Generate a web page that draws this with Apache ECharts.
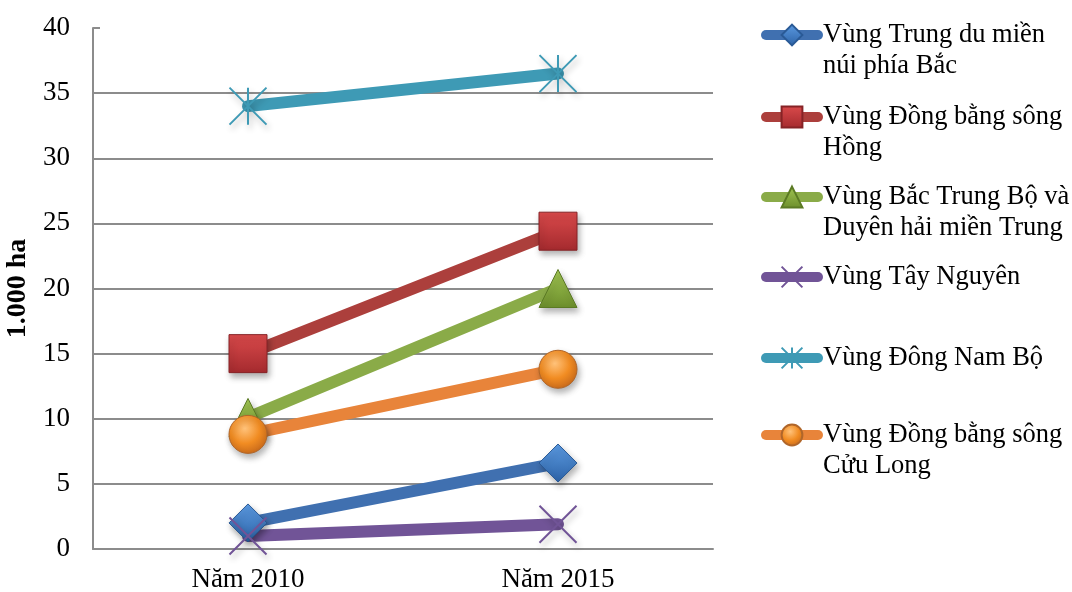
<!DOCTYPE html>
<html>
<head>
<meta charset="utf-8">
<script src="https://cdn.jsdelivr.net/npm/echarts@6/dist/echarts.min.js"></script>
<style>
  html, body { margin: 0; padding: 0; background: #fff; }
  #chart { width: 1072px; height: 592px; }
</style>
</head>
<body>
<div id="chart"></div>
<script>
// Categories and values (thousand hectares)
const years = ['Năm 2010', 'Năm 2015'];
const regionNames = [
  'Vùng Trung du miền\nnúi phía Bắc',
  'Vùng Đồng bằng sông\nHồng',
  'Vùng Bắc Trung Bộ và\nDuyên hải miền Trung',
  'Vùng Tây Nguyên',
  'Vùng Đông Nam Bộ',
  'Vùng Đồng bằng sông\nCửu Long'
];
const trungDu = [2.0, 6.6];
const dongBangHong = [15.0, 24.4];
const bacTrungBo = [10.1, 20.0];
const tayNguyen = [1.0, 1.9];
const dongNamBo = [34.0, 36.5];
const cuuLong = [8.8, 13.8];
const yAxisName = '1.000 ha';

const FONT = "'Liberation Serif', 'Times New Roman', serif";
const LH = 31;

function vgrad(top, bottom) {
  return new echarts.graphic.LinearGradient(0, 0, 0, 1, [
    { offset: 0, color: top }, { offset: 1, color: bottom }
  ]);
}
const markerShadow = {
  shadowBlur: 6, shadowOffsetX: 2, shadowOffsetY: 4, shadowColor: 'rgba(0,0,0,0.3)'
};

const styles = [
  { line: '#4070B0', symbol: 'diamond', size: 38,
    item: Object.assign({ color: vgrad('#5C9BE2', '#2C62A6'), borderColor: '#2A5A96', borderWidth: 1 }, markerShadow) },
  { line: '#AC3F3C', symbol: 'rect', size: 38,
    item: Object.assign({ color: vgrad('#DA4A4B', '#A42A2E'), borderColor: '#862326', borderWidth: 1 }, markerShadow) },
  { line: '#8AAB48', symbol: 'triangle', size: 38,
    item: Object.assign({ color: vgrad('#A2C653', '#6C8E2C'), borderColor: '#5B7A24', borderWidth: 1 }, markerShadow) },
  { line: '#715497', symbol: 'path://M0,0L10,10M10,0L0,10', size: 37,
    item: Object.assign({ color: '#715497', borderColor: '#715497', borderWidth: 2 }, markerShadow) },
  { line: '#3E9AB5', symbol: 'path://M5,0L5,10M0,0L10,10M10,0L0,10', size: 37,
    item: Object.assign({ color: '#3E9AB5', borderColor: '#3E9AB5', borderWidth: 2 }, markerShadow) },
  { line: '#E8843A', symbol: 'circle', size: 38,
    item: Object.assign({
      color: new echarts.graphic.RadialGradient(0.42, 0.35, 0.7, [
        { offset: 0, color: '#FFC27A' }, { offset: 0.55, color: '#F18C22' }, { offset: 1, color: '#C4661A' }
      ]),
      borderColor: '#B0662A', borderWidth: 1 }, markerShadow) }
];

const values = [trungDu, dongBangHong, bacTrungBo, tayNguyen, dongNamBo, cuuLong];

const series = regionNames.map((name, i) => ({
  name: name,
  type: 'line',
  data: values[i],
  symbol: styles[i].symbol,
  symbolSize: styles[i].size,
  showAllSymbol: true,
  lineStyle: { color: styles[i].line, width: 12, cap: 'round' },
  itemStyle: styles[i].item,
  emphasis: { disabled: true }
}));

// Legend rows: icon centre heights. Two-line names get an empty leading
// line so that the first text line sits level with the icon.
const legendIconY = [35, 117, 197, 277, 358, 435];
const legends = regionNames.map((name, i) => {
  const twoLines = name.indexOf('\n') >= 0;
  return {
    orient: 'vertical',
    left: 761,
    top: twoLines ? legendIconY[i] - LH * 1.5 : legendIconY[i] - LH / 2,
    padding: 0,
    itemWidth: 52,
    itemHeight: 26,
    selectedMode: false,
    lineStyle: { width: 10, cap: 'round' },
    formatter: (n) => (n.indexOf('\n') >= 0 ? '\n' + n : n),
    textStyle: { fontFamily: FONT, fontSize: 26.5, color: '#000', lineHeight: LH },
    data: [name]
  };
});

const chart = echarts.init(document.getElementById('chart'), null, { renderer: 'canvas' });
chart.setOption({
  animation: false,
  backgroundColor: '#fff',
  grid: { left: 93, right: 359, top: 28, bottom: 43, containLabel: false, outerBoundsMode: 'none' },
  legend: legends,
  xAxis: {
    type: 'category',
    data: years,
    boundaryGap: true,
    axisLine: { lineStyle: { color: '#8C8C8C', width: 2 } },
    axisTick: { show: false },
    axisLabel: { fontFamily: FONT, fontSize: 27, color: '#000', margin: 17 }
  },
  yAxis: {
    type: 'value',
    min: 0, max: 40, interval: 5,
    name: yAxisName,
    nameLocation: 'middle',
    nameRotate: 90,
    nameGap: 56,
    nameTextStyle: { fontFamily: FONT, fontSize: 28, fontWeight: 'bold', color: '#000' },
    axisLine: { show: true, lineStyle: { color: '#8C8C8C', width: 2 } },
    axisTick: { show: true, inside: true, length: 7, lineStyle: { color: '#8C8C8C', width: 2 } },
    axisLabel: { fontFamily: FONT, fontSize: 27, color: '#000', margin: 23 },
    splitLine: { show: true, showMaxLine: false, lineStyle: { color: '#8C8C8C', width: 2 } }
  },
  series: series
});
</script>
</body>
</html>
